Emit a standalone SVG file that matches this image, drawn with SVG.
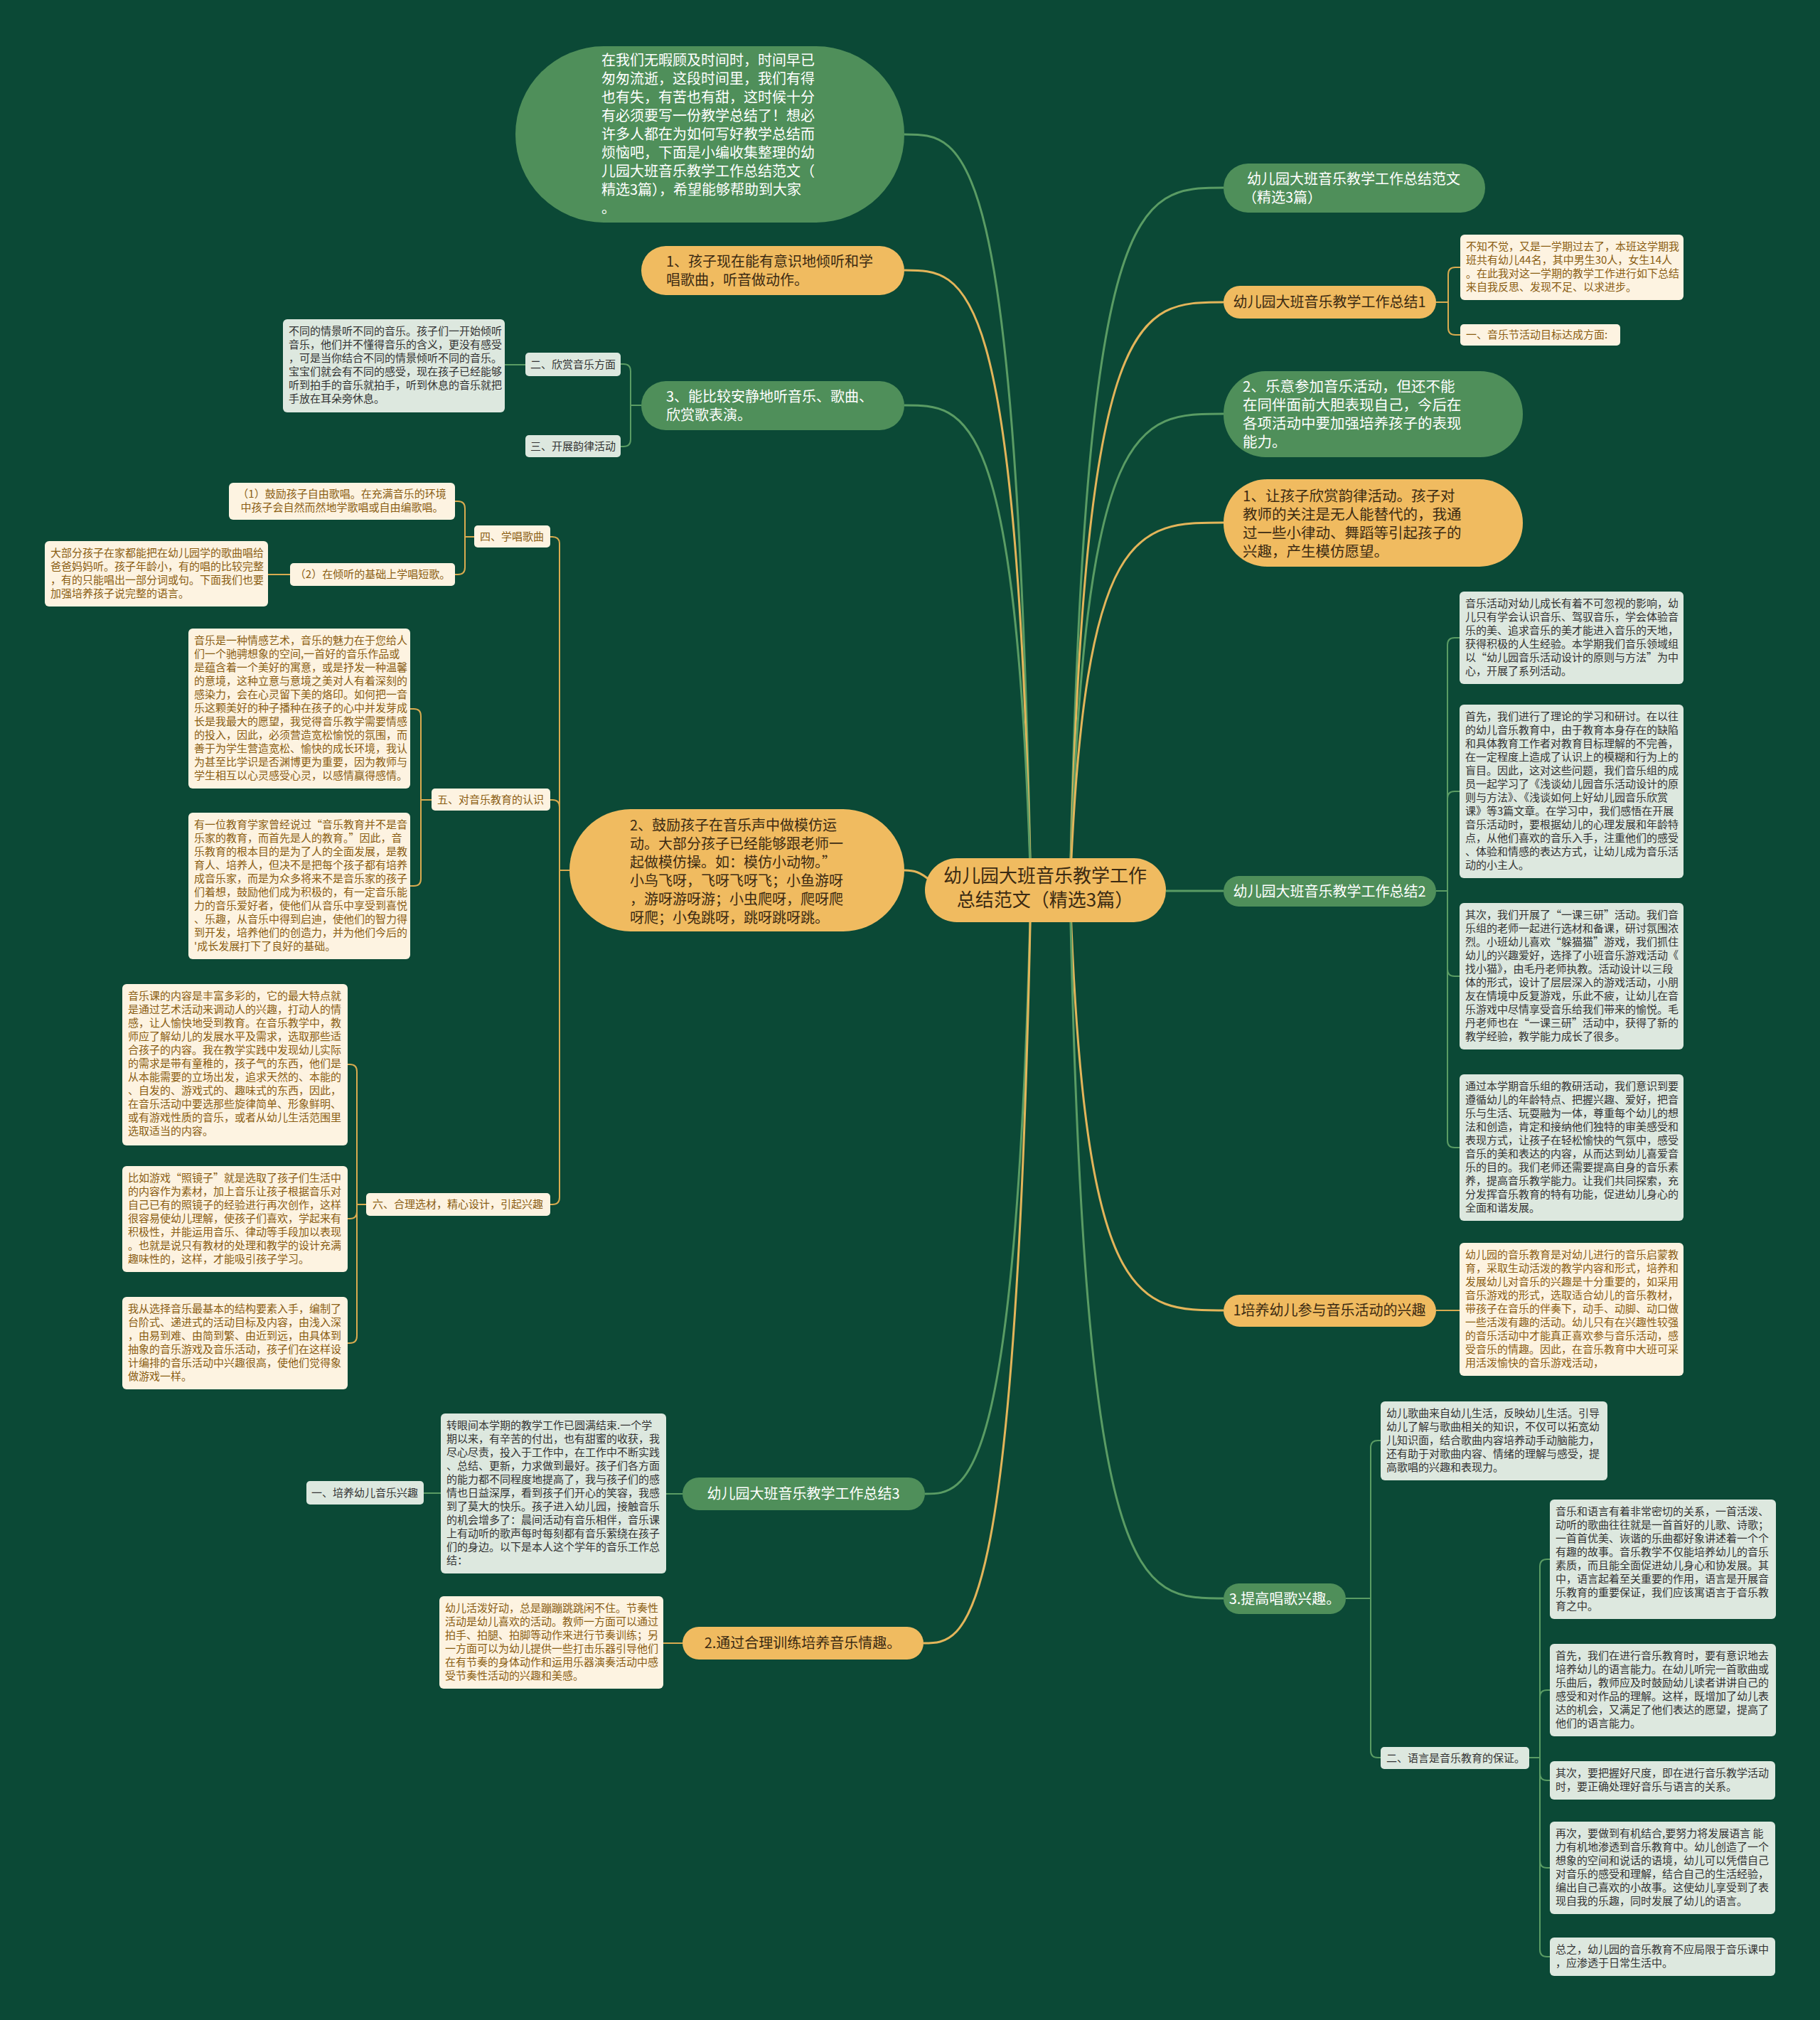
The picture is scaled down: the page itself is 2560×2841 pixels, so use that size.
<svg xmlns="http://www.w3.org/2000/svg" width="2560" height="2841" viewBox="0 0 2560 2841">
<style>
text{font-family:"Noto Sans CJK SC","Noto Sans",sans-serif}
.po{fill:#f0bb60}
.pg{fill:#4f8f5a}
.bc{fill:#fdf3e1}
.bl{fill:#dde8df}
.tw{fill:#ffffff;font-size:20px}
.td{fill:#3b2a12;font-size:20px}
.tc{fill:#8a5d12;font-size:15px}
.tl{fill:#333333;font-size:15px}
.cg{fill:none;stroke:#5a9c64;stroke-width:3}
.co{fill:none;stroke:#e3b55a;stroke-width:3}
.sg{fill:none;stroke:#5a9c64;stroke-width:2}
.so{fill:none;stroke:#d9ab50;stroke-width:2}
</style>
<rect width="2560" height="2841" fill="#0b4936"/>
<g id="connectors">
<path class="cg" d="M1505 1252 C1525 264 1600 264 1721 264"/>
<path class="co" d="M1505 1252 C1525 425 1600 425 1721 425"/>
<path class="cg" d="M1505 1252 C1525 582 1600 582 1721 582"/>
<path class="co" d="M1505 1252 C1525 735 1600 735 1721 735"/>
<path class="cg" d="M1640 1253 H1721"/>
<path class="co" d="M1505 1252 C1525 1843 1600 1843 1721 1843"/>
<path class="cg" d="M1505 1252 C1525 2248 1600 2248 1721 2248"/>
<path class="cg" d="M1450 1252 C1430 189 1360 189 1272 189"/>
<path class="co" d="M1450 1252 C1430 380 1360 380 1272 380"/>
<path class="cg" d="M1450 1252 C1430 570 1360 570 1272 570"/>
<path class="co" d="M1310 1240 C1295 1226 1285 1224 1272 1224"/>
<path class="cg" d="M1450 1252 C1430 2101 1360 2101 1301 2101"/>
<path class="co" d="M1450 1252 C1430 2311 1360 2311 1299 2311"/>
<path class="so" d="M2020 425 H2037 V386 Q2037 376 2047 376 H2054"/>
<path class="so" d="M2020 425 H2037 V461 Q2037 471 2047 471 H2054"/>
<path class="sg" d="M2020 1253 H2036 V907 Q2036 897 2046 897 H2053"/>
<path class="sg" d="M2020 1253 H2036 V1123 Q2036 1113 2046 1113 H2053"/>
<path class="sg" d="M2020 1253 H2036 V1363 Q2036 1373 2046 1373 H2053"/>
<path class="sg" d="M2020 1253 H2036 V1604 Q2036 1614 2046 1614 H2053"/>
<path class="so" d="M2020 1843 H2053"/>
<path class="sg" d="M1893 2248 H1928 V2036 Q1928 2026 1938 2026 H1942"/>
<path class="sg" d="M1893 2248 H1928 V2462 Q1928 2472 1938 2472 H1942"/>
<path class="sg" d="M2151 2472 H2166 V2203 Q2166 2193 2176 2193 H2180"/>
<path class="sg" d="M2151 2472 H2166 V2387 Q2166 2377 2176 2377 H2180"/>
<path class="sg" d="M2151 2472 H2166 V2494 Q2166 2504 2176 2504 H2180"/>
<path class="sg" d="M2151 2472 H2166 V2617 Q2166 2627 2176 2627 H2180"/>
<path class="sg" d="M2151 2472 H2166 V2742 Q2166 2752 2176 2752 H2180"/>
<path class="sg" d="M902 570 H887 V522 Q887 512 877 512 H873"/>
<path class="sg" d="M902 570 H887 V618 Q887 628 877 628 H873"/>
<path class="sg" d="M739 513 H710"/>
<path class="so" d="M801 1224 H787 V765 Q787 755 777 755 H774"/>
<path class="so" d="M801 1224 H787 V1135 Q787 1125 777 1125 H774"/>
<path class="so" d="M801 1224 H787 V1684 Q787 1694 777 1694 H774"/>
<path class="so" d="M667 755 H654 V715 Q654 705 644 705 H640"/>
<path class="so" d="M667 755 H654 V798 Q654 808 644 808 H640"/>
<path class="so" d="M408 808 H377"/>
<path class="so" d="M607 1125 H592 V1007 Q592 997 582 997 H577"/>
<path class="so" d="M607 1125 H592 V1236 Q592 1246 582 1246 H577"/>
<path class="so" d="M515 1694 H502 V1507 Q502 1497 492 1497 H489"/>
<path class="so" d="M515 1694 H502 V1704 Q502 1714 492 1714 H489"/>
<path class="so" d="M515 1694 H502 V1879 Q502 1889 492 1889 H489"/>
<path class="sg" d="M960 2101 H937"/>
<path class="sg" d="M620 2100 H596"/>
<path class="so" d="M960 2311 H933"/>
</g>
<g id="center">
<rect class="po" x="1301" y="1207" width="339" height="90" rx="45"/>
<text x="1470" y="1241" text-anchor="middle" style="fill:#3b2a12;font-size:26px">幼儿园大班音乐教学工作</text>
<text x="1470" y="1275" text-anchor="middle" style="fill:#3b2a12;font-size:26px">总结范文（精选3篇）</text>
</g>
<g id="intro">
<rect class="pg" x="725" y="65" width="547" height="248" rx="124"/>
<text class="tw"><tspan x="846" y="92">在我们无暇顾及时间时，时间早已</tspan><tspan x="846" dy="26">匆匆流逝，这段时间里，我们有得</tspan><tspan x="846" dy="26">也有失，有苦也有甜，这时候十分</tspan><tspan x="846" dy="26">有必须要写一份教学总结了！想必</tspan><tspan x="846" dy="26">许多人都在为如何写好教学总结而</tspan><tspan x="846" dy="26">烦恼吧，下面是小编收集整理的幼</tspan><tspan x="846" dy="26">儿园大班音乐教学工作总结范文（</tspan><tspan x="846" dy="26">精选3篇），希望能够帮助到大家</tspan><tspan x="846" dy="26">。</tspan></text>
</g>
<g id="L1">
<rect class="po" x="902" y="346" width="370" height="69" rx="34.5"/>
<text class="td"><tspan x="937" y="375">1、孩子现在能有意识地倾听和学</tspan><tspan x="937" dy="26">唱歌曲，听音做动作。</tspan></text>
</g>
<g id="L2">
<rect class="pg" x="902" y="536" width="370" height="69" rx="34.5"/>
<text class="tw"><tspan x="937" y="565">3、能比较安静地听音乐、歌曲、</tspan><tspan x="937" dy="26">欣赏歌表演。</tspan></text>
</g>
<g id="L2a">
<rect class="bl" x="739" y="496" width="134" height="33" rx="5"/>
<text class="tl" x="806" y="518" text-anchor="middle">二、欣赏音乐方面</text>
</g>
<g id="L2a1">
<rect class="bl" x="398" y="449" width="312" height="131" rx="6"/>
<text class="tl"><tspan x="406" y="471">不同的情景听不同的音乐。孩子们一开始倾听</tspan><tspan x="406" dy="19">音乐，他们并不懂得音乐的含义，更没有感受</tspan><tspan x="406" dy="19">，可是当你结合不同的情景倾听不同的音乐。</tspan><tspan x="406" dy="19">宝宝们就会有不同的感受，现在孩子已经能够</tspan><tspan x="406" dy="19">听到拍手的音乐就拍手，听到休息的音乐就把</tspan><tspan x="406" dy="19">手放在耳朵旁休息。</tspan></text>
</g>
<g id="L2b">
<rect class="bl" x="739" y="612" width="134" height="31" rx="5"/>
<text class="tl" x="806" y="633" text-anchor="middle">三、开展韵律活动</text>
</g>
<g id="L3">
<rect class="po" x="801" y="1138" width="471" height="172" rx="86"/>
<text class="td"><tspan x="886" y="1168">2、鼓励孩子在音乐声中做模仿运</tspan><tspan x="886" dy="26">动。大部分孩子已经能够跟老师一</tspan><tspan x="886" dy="26">起做模仿操。如：模仿小动物。”</tspan><tspan x="886" dy="26">小鸟飞呀，飞呀飞呀飞；小鱼游呀</tspan><tspan x="886" dy="26">，游呀游呀游；小虫爬呀，爬呀爬</tspan><tspan x="886" dy="26">呀爬；小兔跳呀，跳呀跳呀跳。</tspan></text>
</g>
<g id="L3a">
<rect class="bc" x="667" y="739" width="107" height="31" rx="5"/>
<text class="tc" x="720" y="760" text-anchor="middle">四、学唱歌曲</text>
</g>
<g id="L3a1">
<rect class="bc" x="322" y="679" width="318" height="52" rx="6"/>
<text class="tc" text-anchor="middle"><tspan x="481" y="700">（1）鼓励孩子自由歌唱。在充满音乐的环境</tspan><tspan x="481" dy="19">中孩子会自然而然地学歌唱或自由编歌唱。</tspan></text>
</g>
<g id="L3a2">
<rect class="bc" x="408" y="792" width="232" height="32" rx="5"/>
<text class="tc" x="524" y="813" text-anchor="middle">（2）在倾听的基础上学唱短歌。</text>
</g>
<g id="L3a2a">
<rect class="bc" x="63" y="761" width="314" height="92" rx="6"/>
<text class="tc"><tspan x="71" y="783">大部分孩子在家都能把在幼儿园学的歌曲唱给</tspan><tspan x="71" dy="19">爸爸妈妈听。孩子年龄小，有的唱的比较完整</tspan><tspan x="71" dy="19">，有的只能唱出一部分词或句。下面我们也要</tspan><tspan x="71" dy="19">加强培养孩子说完整的语言。</tspan></text>
</g>
<g id="L3b">
<rect class="bc" x="607" y="1109" width="167" height="31" rx="5"/>
<text class="tc" x="690" y="1130" text-anchor="middle">五、对音乐教育的认识</text>
</g>
<g id="L3b1">
<rect class="bc" x="265" y="884" width="312" height="225" rx="6"/>
<text class="tc"><tspan x="273" y="906">音乐是一种情感艺术，音乐的魅力在于您给人</tspan><tspan x="273" dy="19">们一个驰骋想象的空间,一首好的音乐作品或</tspan><tspan x="273" dy="19">是蕴含着一个美好的寓意，或是抒发一种温馨</tspan><tspan x="273" dy="19">的意境，这种立意与意境之美对人有着深刻的</tspan><tspan x="273" dy="19">感染力，会在心灵留下美的烙印。如何把一音</tspan><tspan x="273" dy="19">乐这颗美好的种子播种在孩子的心中并发芽成</tspan><tspan x="273" dy="19">长是我最大的愿望，我觉得音乐教学需要情感</tspan><tspan x="273" dy="19">的投入，因此，必须营造宽松愉悦的氛围，而</tspan><tspan x="273" dy="19">善于为学生营造宽松、愉快的成长环境，我认</tspan><tspan x="273" dy="19">为甚至比学识是否渊博更为重要，因为教师与</tspan><tspan x="273" dy="19">学生相互以心灵感受心灵，以感情赢得感情。</tspan></text>
</g>
<g id="L3b2">
<rect class="bc" x="265" y="1143" width="312" height="206" rx="6"/>
<text class="tc"><tspan x="273" y="1165">有一位教育学家曾经说过“音乐教育并不是音</tspan><tspan x="273" dy="19">乐家的教育，而首先是人的教育。”因此，音</tspan><tspan x="273" dy="19">乐教育的根本目的是为了人的全面发展，是教</tspan><tspan x="273" dy="19">育人、培养人，但决不是把每个孩子都有培养</tspan><tspan x="273" dy="19">成音乐家，而是为众多将来不是音乐家的孩子</tspan><tspan x="273" dy="19">们着想，鼓励他们成为积极的，有一定音乐能</tspan><tspan x="273" dy="19">力的音乐爱好者，使他们从音乐中享受到喜悦</tspan><tspan x="273" dy="19">、乐趣，从音乐中得到启迪，使他们的智力得</tspan><tspan x="273" dy="19">到开发，培养他们的创造力，并为他们今后的</tspan><tspan x="273" dy="19">'成长发展打下了良好的基础。</tspan></text>
</g>
<g id="L3c">
<rect class="bc" x="515" y="1678" width="259" height="32" rx="5"/>
<text class="tc" x="644" y="1699" text-anchor="middle">六、合理选材，精心设计，引起兴趣</text>
</g>
<g id="L3c1">
<rect class="bc" x="172" y="1384" width="317" height="227" rx="6"/>
<text class="tc"><tspan x="180" y="1406">音乐课的内容是丰富多彩的，它的最大特点就</tspan><tspan x="180" dy="19">是通过艺术活动来调动人的兴趣，打动人的情</tspan><tspan x="180" dy="19">感，让人愉快地受到教育。在音乐教学中，教</tspan><tspan x="180" dy="19">师应了解幼儿的发展水平及需求，选取那些适</tspan><tspan x="180" dy="19">合孩子的内容。我在教学实践中发现幼儿实际</tspan><tspan x="180" dy="19">的需求是带有童稚的，孩子气的东西，他们是</tspan><tspan x="180" dy="19">从本能需要的立场出发，追求天然的、本能的</tspan><tspan x="180" dy="19">、自发的、游戏式的、趣味式的东西，因此，</tspan><tspan x="180" dy="19">在音乐活动中要选那些旋律简单、形象鲜明、</tspan><tspan x="180" dy="19">或有游戏性质的音乐，或者从幼儿生活范围里</tspan><tspan x="180" dy="19">选取适当的内容。</tspan></text>
</g>
<g id="L3c2">
<rect class="bc" x="172" y="1640" width="317" height="149" rx="6"/>
<text class="tc"><tspan x="180" y="1662">比如游戏“照镜子”就是选取了孩子们生活中</tspan><tspan x="180" dy="19">的内容作为素材，加上音乐让孩子根据音乐对</tspan><tspan x="180" dy="19">自己已有的照镜子的经验进行再次创作，这样</tspan><tspan x="180" dy="19">很容易使幼儿理解，使孩子们喜欢，学起来有</tspan><tspan x="180" dy="19">积极性，并能运用音乐、律动等手段加以表现</tspan><tspan x="180" dy="19">。也就是说只有教材的处理和教学的设计充满</tspan><tspan x="180" dy="19">趣味性的，这样，才能吸引孩子学习。</tspan></text>
</g>
<g id="L3c3">
<rect class="bc" x="172" y="1824" width="317" height="130" rx="6"/>
<text class="tc"><tspan x="180" y="1846">我从选择音乐最基本的结构要素入手，编制了</tspan><tspan x="180" dy="19">台阶式、递进式的活动目标及内容，由浅入深</tspan><tspan x="180" dy="19">，由易到难、由简到繁、由近到远，由具体到</tspan><tspan x="180" dy="19">抽象的音乐游戏及音乐活动，孩子们在这样设</tspan><tspan x="180" dy="19">计编排的音乐活动中兴趣很高，使他们觉得象</tspan><tspan x="180" dy="19">做游戏一样。</tspan></text>
</g>
<g id="L4">
<rect class="pg" x="960" y="2078" width="341" height="46" rx="23"/>
<text class="tw" x="1130" y="2108" text-anchor="middle">幼儿园大班音乐教学工作总结3</text>
</g>
<g id="L4a">
<rect class="bl" x="620" y="1988" width="317" height="225" rx="6"/>
<text class="tl"><tspan x="628" y="2010">转眼间本学期的教学工作已圆满结束.一个学</tspan><tspan x="628" dy="19">期以来，有辛苦的付出，也有甜蜜的收获，我</tspan><tspan x="628" dy="19">尽心尽责，投入于工作中，在工作中不断实践</tspan><tspan x="628" dy="19">、总结、更新，力求做到最好。孩子们各方面</tspan><tspan x="628" dy="19">的能力都不同程度地提高了，我与孩子们的感</tspan><tspan x="628" dy="19">情也日益深厚，看到孩子们开心的笑容，我感</tspan><tspan x="628" dy="19">到了莫大的快乐。孩子进入幼儿园，接触音乐</tspan><tspan x="628" dy="19">的机会增多了：晨间活动有音乐相伴，音乐课</tspan><tspan x="628" dy="19">上有动听的歌声每时每刻都有音乐萦绕在孩子</tspan><tspan x="628" dy="19">们的身边。以下是本人这个学年的音乐工作总</tspan><tspan x="628" dy="19">结：</tspan></text>
</g>
<g id="L4a1">
<rect class="bl" x="431" y="2083" width="165" height="33" rx="5"/>
<text class="tl" x="513" y="2105" text-anchor="middle">一、培养幼儿音乐兴趣</text>
</g>
<g id="L5">
<rect class="po" x="960" y="2288" width="339" height="46" rx="23"/>
<text class="td" x="1129" y="2318" text-anchor="middle">2.通过合理训练培养音乐情趣。</text>
</g>
<g id="L5a">
<rect class="bc" x="618" y="2245" width="315" height="130" rx="6"/>
<text class="tc"><tspan x="626" y="2267">幼儿活泼好动，总是蹦蹦跳跳闲不住。节奏性</tspan><tspan x="626" dy="19">活动是幼儿喜欢的活动。教师一方面可以通过</tspan><tspan x="626" dy="19">拍手、拍腿、拍脚等动作来进行节奏训练；另</tspan><tspan x="626" dy="19">一方面可以为幼儿提供一些打击乐器引导他们</tspan><tspan x="626" dy="19">在有节奏的身体动作和运用乐器演奏活动中感</tspan><tspan x="626" dy="19">受节奏性活动的兴趣和美感。</tspan></text>
</g>
<g id="R1">
<rect class="pg" x="1721" y="230" width="368" height="69" rx="34.5"/>
<text class="tw"><tspan x="1754" y="259">幼儿园大班音乐教学工作总结范文</tspan><tspan x="1748" dy="26">（精选3篇）</tspan></text>
</g>
<g id="R2">
<rect class="po" x="1721" y="402" width="299" height="46" rx="23"/>
<text class="td" x="1870" y="432" text-anchor="middle">幼儿园大班音乐教学工作总结1</text>
</g>
<g id="R2a">
<rect class="bc" x="2054" y="330" width="314" height="92" rx="6"/>
<text class="tc"><tspan x="2062" y="352">不知不觉，又是一学期过去了，本班这学期我</tspan><tspan x="2062" dy="19">班共有幼儿44名，其中男生30人，女生14人</tspan><tspan x="2062" dy="19">。在此我对这一学期的教学工作进行如下总结</tspan><tspan x="2062" dy="19">来自我反思、发现不足、以求进步。</tspan></text>
</g>
<g id="R2b">
<rect class="bc" x="2054" y="456" width="225" height="30" rx="5"/>
<text class="tc" x="2062" y="476">一、音乐节活动目标达成方面:</text>
</g>
<g id="R3">
<rect class="pg" x="1721" y="522" width="421" height="121" rx="60"/>
<text class="tw" style="font-size:20.5px"><tspan x="1748" y="551">2、乐意参加音乐活动，但还不能</tspan><tspan x="1748" dy="26">在同伴面前大胆表现自己，今后在</tspan><tspan x="1748" dy="26">各项活动中要加强培养孩子的表现</tspan><tspan x="1748" dy="26">能力。</tspan></text>
</g>
<g id="R4">
<rect class="po" x="1721" y="674" width="421" height="123" rx="61"/>
<text class="td" style="font-size:20.5px"><tspan x="1748" y="705">1、让孩子欣赏韵律活动。孩子对</tspan><tspan x="1748" dy="26">教师的关注是无人能替代的，我通</tspan><tspan x="1748" dy="26">过一些小律动、舞蹈等引起孩子的</tspan><tspan x="1748" dy="26">兴趣，产生模仿愿望。</tspan></text>
</g>
<g id="R5">
<rect class="pg" x="1721" y="1232" width="299" height="43" rx="21.5"/>
<text class="tw" x="1870" y="1261" text-anchor="middle">幼儿园大班音乐教学工作总结2</text>
</g>
<g id="R5a">
<rect class="bl" x="2053" y="832" width="315" height="130" rx="6"/>
<text class="tl"><tspan x="2061" y="854">音乐活动对幼儿成长有着不可忽视的影响，幼</tspan><tspan x="2061" dy="19">儿只有学会认识音乐、驾驭音乐，学会体验音</tspan><tspan x="2061" dy="19">乐的美、追求音乐的美才能进入音乐的天地，</tspan><tspan x="2061" dy="19">获得积极的人生经验。本学期我们音乐领域组</tspan><tspan x="2061" dy="19">以“幼儿园音乐活动设计的原则与方法”为中</tspan><tspan x="2061" dy="19">心，开展了系列活动。</tspan></text>
</g>
<g id="R5b">
<rect class="bl" x="2053" y="991" width="315" height="244" rx="6"/>
<text class="tl"><tspan x="2061" y="1013">首先，我们进行了理论的学习和研讨。在以往</tspan><tspan x="2061" dy="19">的幼儿音乐教育中，由于教育本身存在的缺陷</tspan><tspan x="2061" dy="19">和具体教育工作者对教育目标理解的不完善，</tspan><tspan x="2061" dy="19">在一定程度上造成了认识上的模糊和行为上的</tspan><tspan x="2061" dy="19">盲目。因此，这对这些问题，我们音乐组的成</tspan><tspan x="2061" dy="19">员一起学习了《浅谈幼儿园音乐活动设计的原</tspan><tspan x="2061" dy="19">则与方法》、《浅谈如何上好幼儿园音乐欣赏</tspan><tspan x="2061" dy="19">课》等3篇文章。在学习中，我们感悟在开展</tspan><tspan x="2061" dy="19">音乐活动时，要根据幼儿的心理发展和年龄特</tspan><tspan x="2061" dy="19">点，从他们喜欢的音乐入手，注重他们的感受</tspan><tspan x="2061" dy="19">、体验和情感的表达方式，让幼儿成为音乐活</tspan><tspan x="2061" dy="19">动的小主人。</tspan></text>
</g>
<g id="R5c">
<rect class="bl" x="2053" y="1270" width="315" height="206" rx="6"/>
<text class="tl"><tspan x="2061" y="1292">其次，我们开展了“一课三研”活动。我们音</tspan><tspan x="2061" dy="19">乐组的老师一起进行选材和备课，研讨氛围浓</tspan><tspan x="2061" dy="19">烈。小班幼儿喜欢“躲猫猫”游戏，我们抓住</tspan><tspan x="2061" dy="19">幼儿的兴趣爱好，选择了小班音乐游戏活动《</tspan><tspan x="2061" dy="19">找小猫》，由毛丹老师执教。活动设计以三段</tspan><tspan x="2061" dy="19">体的形式，设计了层层深入的游戏活动，小朋</tspan><tspan x="2061" dy="19">友在情境中反复游戏，乐此不疲，让幼儿在音</tspan><tspan x="2061" dy="19">乐游戏中尽情享受音乐给我们带来的愉悦。毛</tspan><tspan x="2061" dy="19">丹老师也在“一课三研”活动中，获得了新的</tspan><tspan x="2061" dy="19">教学经验，教学能力成长了很多。</tspan></text>
</g>
<g id="R5d">
<rect class="bl" x="2053" y="1511" width="315" height="206" rx="6"/>
<text class="tl"><tspan x="2061" y="1533">通过本学期音乐组的教研活动，我们意识到要</tspan><tspan x="2061" dy="19">遵循幼儿的年龄特点、把握兴趣、爱好，把音</tspan><tspan x="2061" dy="19">乐与生活、玩耍融为一体，尊重每个幼儿的想</tspan><tspan x="2061" dy="19">法和创造，肯定和接纳他们独特的审美感受和</tspan><tspan x="2061" dy="19">表现方式，让孩子在轻松愉快的气氛中，感受</tspan><tspan x="2061" dy="19">音乐的美和表达的内容，从而达到幼儿喜爱音</tspan><tspan x="2061" dy="19">乐的目的。我们老师还需要提高自身的音乐素</tspan><tspan x="2061" dy="19">养，提高音乐教学能力。让我们共同探索，充</tspan><tspan x="2061" dy="19">分发挥音乐教育的特有功能，促进幼儿身心的</tspan><tspan x="2061" dy="19">全面和谐发展。</tspan></text>
</g>
<g id="R6">
<rect class="po" x="1721" y="1821" width="299" height="45" rx="22.5"/>
<text class="td" x="1870" y="1850" text-anchor="middle">1培养幼儿参与音乐活动的兴趣</text>
</g>
<g id="R6a">
<rect class="bc" x="2053" y="1748" width="315" height="187" rx="6"/>
<text class="tc"><tspan x="2061" y="1770">幼儿园的音乐教育是对幼儿进行的音乐启蒙教</tspan><tspan x="2061" dy="19">育，采取生动活泼的教学内容和形式，培养和</tspan><tspan x="2061" dy="19">发展幼儿对音乐的兴趣是十分重要的，如采用</tspan><tspan x="2061" dy="19">音乐游戏的形式，选取适合幼儿的音乐教材，</tspan><tspan x="2061" dy="19">带孩子在音乐的伴奏下，动手、动脚、动口做</tspan><tspan x="2061" dy="19">一些活泼有趣的活动。幼儿只有在兴趣性较强</tspan><tspan x="2061" dy="19">的音乐活动中才能真正喜欢参与音乐活动，感</tspan><tspan x="2061" dy="19">受音乐的情趣。因此，在音乐教育中大班可采</tspan><tspan x="2061" dy="19">用活泼愉快的音乐游戏活动，</tspan></text>
</g>
<g id="R7">
<rect class="pg" x="1721" y="2227" width="172" height="43" rx="21.5"/>
<text class="tw" x="1807" y="2256" text-anchor="middle">3.提高唱歌兴趣。</text>
</g>
<g id="R7a">
<rect class="bl" x="1942" y="1971" width="319" height="111" rx="6"/>
<text class="tl"><tspan x="1950" y="1993">幼儿歌曲来自幼儿生活，反映幼儿生活。引导</tspan><tspan x="1950" dy="19">幼儿了解与歌曲相关的知识，不仅可以拓宽幼</tspan><tspan x="1950" dy="19">儿知识面，结合歌曲内容培养动手动脑能力，</tspan><tspan x="1950" dy="19">还有助于对歌曲内容、情绪的理解与感受，提</tspan><tspan x="1950" dy="19">高歌唱的兴趣和表现力。</tspan></text>
</g>
<g id="R7b">
<rect class="bl" x="1942" y="2457" width="209" height="31" rx="5"/>
<text class="tl" x="1950" y="2478">二、语言是音乐教育的保证。</text>
</g>
<g id="R7b1">
<rect class="bl" x="2180" y="2109" width="318" height="168" rx="6"/>
<text class="tl"><tspan x="2188" y="2131">音乐和语言有着非常密切的关系，一首活泼、</tspan><tspan x="2188" dy="19">动听的歌曲往往就是一首首好的儿歌、诗歌；</tspan><tspan x="2188" dy="19">一首首优美、诙谐的乐曲都好象讲述着一个个</tspan><tspan x="2188" dy="19">有趣的故事。音乐教学不仅能培养幼儿的音乐</tspan><tspan x="2188" dy="19">素质，而且能全面促进幼儿身心和协发展。其</tspan><tspan x="2188" dy="19">中，语言起着至关重要的作用，语言是开展音</tspan><tspan x="2188" dy="19">乐教育的重要保证，我们应该寓语言于音乐教</tspan><tspan x="2188" dy="19">育之中。</tspan></text>
</g>
<g id="R7b2">
<rect class="bl" x="2180" y="2312" width="318" height="130" rx="6"/>
<text class="tl"><tspan x="2188" y="2334">首先，我们在进行音乐教育时，要有意识地去</tspan><tspan x="2188" dy="19">培养幼儿的语言能力。在幼儿听完一首歌曲或</tspan><tspan x="2188" dy="19">乐曲后，教师应及时鼓励幼儿读者讲讲自己的</tspan><tspan x="2188" dy="19">感受和对作品的理解。这样，既增加了幼儿表</tspan><tspan x="2188" dy="19">达的机会，又满足了他们表达的愿望，提高了</tspan><tspan x="2188" dy="19">他们的语言能力。</tspan></text>
</g>
<g id="R7b3">
<rect class="bl" x="2180" y="2477" width="317" height="54" rx="6"/>
<text class="tl"><tspan x="2188" y="2499">其次，要把握好尺度，即在进行音乐教学活动</tspan><tspan x="2188" dy="19">时，要正确处理好音乐与语言的关系。</tspan></text>
</g>
<g id="R7b4">
<rect class="bl" x="2180" y="2562" width="317" height="130" rx="6"/>
<text class="tl"><tspan x="2188" y="2584">再次，要做到有机结合,要努力将发展语言 能</tspan><tspan x="2188" dy="19">力有机地渗透到音乐教育中。幼儿创造了一个</tspan><tspan x="2188" dy="19">想象的空间和说话的语境，幼儿可以凭借自己</tspan><tspan x="2188" dy="19">对音乐的感受和理解，结合自己的生活经验，</tspan><tspan x="2188" dy="19">编出自己喜欢的小故事。这使幼儿享受到了表</tspan><tspan x="2188" dy="19">现自我的乐趣，同时发展了幼儿的语言。</tspan></text>
</g>
<g id="R7b5">
<rect class="bl" x="2180" y="2725" width="317" height="54" rx="6"/>
<text class="tl"><tspan x="2188" y="2747">总之，幼儿园的音乐教育不应局限于音乐课中</tspan><tspan x="2188" dy="19">，应渗透于日常生活中。</tspan></text>
</g>
</svg>
